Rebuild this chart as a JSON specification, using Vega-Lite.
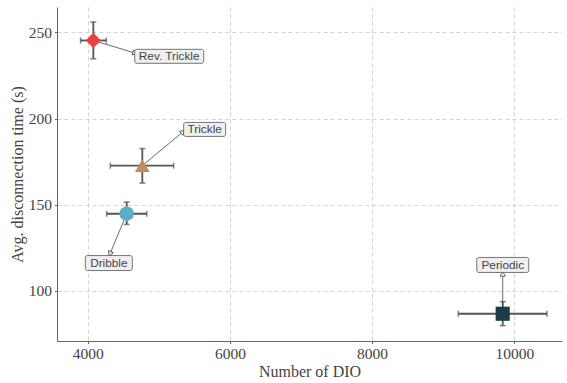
{
  "$schema": "https://vega.github.io/schema/vega-lite/v6.json",
  "autosize": "none",
  "width": 505,
  "height": 334,
  "padding": {"left": 57, "top": 7, "right": 5, "bottom": 42},
  "background": "white",
  "config": {
    "view": {"stroke": null},
    "axis": {
      "grid": true,
      "gridColor": "#c8c8c8",
      "gridDash": [4, 3],
      "gridWidth": 0.8,
      "domainColor": "#666666",
      "domainWidth": 1,
      "ticks": true,
      "tickSize": 2.5,
      "tickColor": "#666666",
      "labelFont": "Liberation Serif",
      "labelFontSize": 15.5,
      "labelColor": "#444444",
      "titleFont": "Liberation Serif",
      "titleFontSize": 16,
      "titleFontWeight": "normal",
      "titleColor": "#444444"
    }
  },
  "data": {
    "values": [
      {"name": "Rev. Trickle", "x": 4079, "xlo": 3901, "xhi": 4261, "y": 245.3, "ylo": 234.7, "yhi": 256, "lx": 5146, "ly": 236.1, "ax": 4665, "ay": 238, "ang": 108},
      {"name": "Trickle", "x": 4768, "xlo": 4318, "xhi": 5209, "y": 172.7, "ylo": 162.6, "yhi": 182.6, "lx": 5645, "ly": 193.7, "ax": 5340, "ay": 192.3, "ang": 48},
      {"name": "Dribble", "x": 4548, "xlo": 4267, "xhi": 4830, "y": 144.8, "ylo": 138.6, "yhi": 151.6, "lx": 4297, "ly": 116.2, "ax": 4314, "ay": 121.6, "ang": 204},
      {"name": "Periodic", "x": 9837, "xlo": 9212, "xhi": 10460, "y": 86.8, "ylo": 79.9, "yhi": 93.8, "lx": 9838, "ly": 115.1, "ax": 9837, "ay": 109.9, "ang": 0}
    ]
  },
  "encoding": {
    "x": {"field": "x", "type": "quantitative", "scale": {"domain": [3568, 10671], "nice": false, "zero": false}, "axis": {"values": [4000, 6000, 8000, 10000], "format": "d", "title": "Number of DIO", "labelPadding": 3, "titlePadding": 1}},
    "y": {"field": "y", "type": "quantitative", "scale": {"domain": [71.0, 264.7], "nice": false, "zero": false}, "axis": {"values": [100, 150, 200, 250], "title": "Avg. disconnection time (s)", "labelPadding": 3, "titlePadding": 3}}
  },
  "layer": [
    {"mark": {"type": "rule", "color": "#555555", "strokeWidth": 1.8}, "encoding": {"x": {"field": "xlo", "type": "quantitative"}, "x2": {"field": "xhi"}}},
    {"mark": {"type": "rule", "color": "#555555", "strokeWidth": 1.8}, "encoding": {"y": {"field": "ylo", "type": "quantitative"}, "y2": {"field": "yhi"}}},
    {"mark": {"type": "tick", "orient": "vertical", "color": "#555555", "thickness": 1.6, "size": 6}, "encoding": {"x": {"field": "xlo", "type": "quantitative"}}},
    {"mark": {"type": "tick", "orient": "vertical", "color": "#555555", "thickness": 1.6, "size": 6}, "encoding": {"x": {"field": "xhi", "type": "quantitative"}}},
    {"mark": {"type": "tick", "orient": "horizontal", "color": "#555555", "thickness": 1.6, "size": 6}, "encoding": {"y": {"field": "ylo", "type": "quantitative"}}},
    {"mark": {"type": "tick", "orient": "horizontal", "color": "#555555", "thickness": 1.6, "size": 6}, "encoding": {"y": {"field": "yhi", "type": "quantitative"}}},
    {"mark": {"type": "rule", "color": "#444444", "strokeWidth": 0.8}, "encoding": {"x2": {"field": "ax"}, "y2": {"field": "ay"}}},
    {"mark": {"type": "point", "shape": "triangle-up", "filled": true, "fill": "white", "stroke": "#444444", "strokeWidth": 0.8, "size": 28, "opacity": 1}, "encoding": {"x": {"field": "ax", "type": "quantitative"}, "y": {"field": "ay", "type": "quantitative"}, "angle": {"field": "ang", "type": "quantitative", "scale": null}}},
    {"mark": {"type": "point", "filled": true, "opacity": 1, "strokeWidth": 0}, "encoding": {
      "color": {"field": "name", "type": "nominal", "scale": {"domain": ["Rev. Trickle", "Trickle", "Dribble", "Periodic"], "range": ["#E8413F", "#C38C5C", "#5BAEC8", "#1E3C47"]}, "legend": null},
      "shape": {"field": "name", "type": "nominal", "scale": {"domain": ["Rev. Trickle", "Trickle", "Dribble", "Periodic"], "range": ["diamond", "triangle-up", "circle", "square"]}, "legend": null},
      "size": {"field": "name", "type": "nominal", "scale": {"domain": ["Rev. Trickle", "Trickle", "Dribble", "Periodic"], "range": [230, 200, 150, 130]}, "legend": null}
    }},
    {"transform": [{"filter": "datum.name === 'Rev. Trickle'"}], "mark": {"type": "rect", "fill": "#efefef", "stroke": "#555555", "strokeWidth": 0.8, "cornerRadius": 2, "xOffset": -34.5, "x2Offset": 34.5, "yOffset": 7, "y2Offset": -7}, "encoding": {"x": {"field": "lx", "type": "quantitative"}, "x2": {"field": "lx"}, "y": {"field": "ly", "type": "quantitative"}, "y2": {"field": "ly"}}},
    {"transform": [{"filter": "datum.name === 'Trickle'"}], "mark": {"type": "rect", "fill": "#efefef", "stroke": "#555555", "strokeWidth": 0.8, "cornerRadius": 2, "xOffset": -21, "x2Offset": 21, "yOffset": 7, "y2Offset": -7}, "encoding": {"x": {"field": "lx", "type": "quantitative"}, "x2": {"field": "lx"}, "y": {"field": "ly", "type": "quantitative"}, "y2": {"field": "ly"}}},
    {"transform": [{"filter": "datum.name === 'Dribble'"}], "mark": {"type": "rect", "fill": "#efefef", "stroke": "#555555", "strokeWidth": 0.8, "cornerRadius": 2, "xOffset": -23.5, "x2Offset": 23.5, "yOffset": 7.5, "y2Offset": -7.5}, "encoding": {"x": {"field": "lx", "type": "quantitative"}, "x2": {"field": "lx"}, "y": {"field": "ly", "type": "quantitative"}, "y2": {"field": "ly"}}},
    {"transform": [{"filter": "datum.name === 'Periodic'"}], "mark": {"type": "rect", "fill": "#efefef", "stroke": "#555555", "strokeWidth": 0.8, "cornerRadius": 2, "xOffset": -26, "x2Offset": 26, "yOffset": 7.5, "y2Offset": -7.5}, "encoding": {"x": {"field": "lx", "type": "quantitative"}, "x2": {"field": "lx"}, "y": {"field": "ly", "type": "quantitative"}, "y2": {"field": "ly"}}},
    {"mark": {"type": "text", "font": "Liberation Sans", "fontSize": 11.8, "color": "#444444", "align": "center", "baseline": "middle"}, "encoding": {"x": {"field": "lx", "type": "quantitative"}, "y": {"field": "ly", "type": "quantitative"}, "text": {"field": "name"}}}
  ]
}
